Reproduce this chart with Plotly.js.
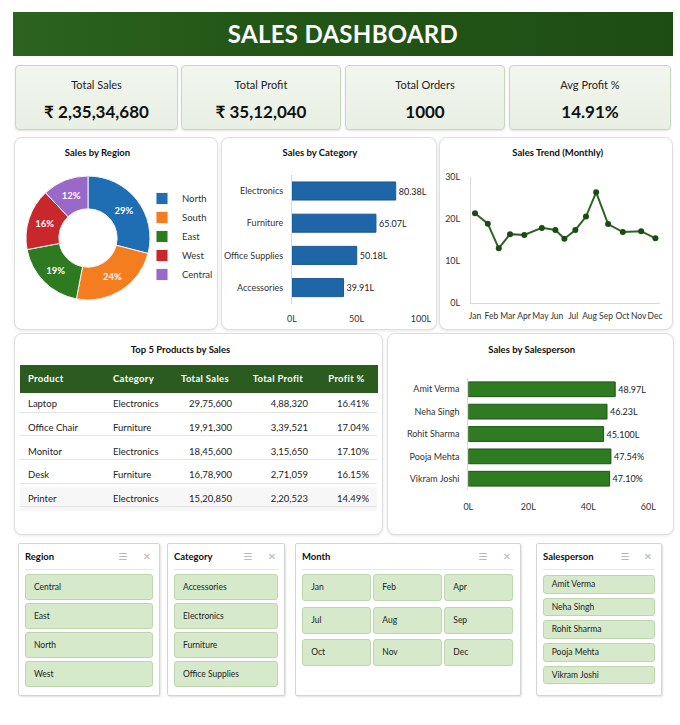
<!DOCTYPE html>
<html><head><meta charset="utf-8">
<script src="https://cdn.plot.ly/plotly-3.0.1.min.js"></script>
<style>
html,body{margin:0;padding:0;background:#fff;}
body{width:680px;height:725px;position:relative;overflow:hidden;font-family:Lato,"Open Sans",sans-serif;color:#222;}
.abs{position:absolute;box-sizing:border-box;}
#header{left:13px;top:12px;width:660px;height:44px;background:linear-gradient(90deg,#2c6320 0%,#235717 35%,#1e4d14 100%);color:#fff;font-weight:700;font-size:24px;line-height:44px;text-align:center;letter-spacing:0.3px;}
.kpi{top:65px;height:65px;background:linear-gradient(#f2f6ef,#e8efe3);border:1px solid #c8d7c0;border-radius:4px;box-shadow:0 1px 2px rgba(0,0,0,0.12);}
.kpi .lab{position:absolute;left:0;right:0;top:11px;height:16px;line-height:16px;text-align:center;font-size:11px;color:#222;}
.kpi .val{position:absolute;left:0;right:0;top:35px;height:22px;line-height:22px;text-align:center;font-size:17px;font-weight:700;color:#111;}
.panel{background:#fff;border:1px solid #dedede;border-radius:8px;box-shadow:0 1px 3px rgba(0,0,0,0.10);}
.ptitle{position:absolute;height:14px;line-height:14px;font-size:9.5px;font-weight:700;color:#111;white-space:nowrap;transform:translateX(-50%);}
.slicer{top:543px;height:153px;background:#fff;border:1px solid #d4d4d4;border-radius:2px;box-shadow:1px 1px 2px rgba(0,0,0,0.12);}
.stitle{position:absolute;top:557px;height:14px;line-height:14px;margin-top:-7px;font-size:9.5px;font-weight:700;color:#111;}
.sicon{position:absolute;top:557px;height:14px;line-height:14px;margin-top:-7px;font-size:10px;color:#b8b8b8;transform:translateX(-50%);font-family:"DejaVu Sans",sans-serif;}
.ssep{position:absolute;height:1px;background:#e6e6e6;top:569px;}
.sbtn{position:absolute;background:#d7e9cb;border:1px solid #bdd6ad;border-radius:3px;font-size:8.5px;color:#222;padding-left:8px;box-sizing:border-box;white-space:nowrap;}
.rowsep{position:absolute;height:1px;background:#e2e2e2;z-index:3;}
#plot{position:absolute;left:0;top:0;width:680px;height:725px;z-index:2;}
</style>
</head><body>
<div id="frame"></div>
<div id="plot"></div>
<script>
// ---------------- DATA ----------------
const dashTitle = 'SALES DASHBOARD';
const kpiLabels = ['Total Sales', 'Total Profit', 'Total Orders', 'Avg Profit %'];
const kpiTotalSales = 23534680;
const kpiTotalProfit = 3512040;
const kpiTotalOrders = 1000;
const kpiAvgProfitPct = 14.91;

const regionNames = ['North', 'South', 'East', 'West', 'Central'];
const regionShare = [29, 24, 19, 16, 12];

const categoryNames = ['Electronics', 'Furniture', 'Office Supplies', 'Accessories'];
const categorySales = [80.38, 65.07, 50.18, 39.91];        // in lakhs
const categoryTicks = [0, 50, 100];

const monthLabels = ['Jan','Feb','Mar','Apr','May','Jun','Jul','Aug','Sep','Oct','Nov','Dec'];
const trendMonthPos = [0, 0.78, 1.45, 2.14, 3.01, 4.08, 4.91, 5.46, 6.13, 6.78, 7.40, 8.13, 9.03, 10.15, 11.02];
const trendSales = [21.4, 18.9, 13.0, 16.4, 16.2, 17.9, 17.4, 15.3, 17.4, 20.6, 26.4, 18.8, 16.9, 17.1, 15.4];
const trendTicks = [0, 10, 20, 30];

const productNames = ['Laptop', 'Office Chair', 'Monitor', 'Desk', 'Printer'];
const productCategory = ['Electronics', 'Furniture', 'Electronics', 'Furniture', 'Electronics'];
const productSales = [2975600, 1991300, 1845600, 1678900, 1520850];
const productProfit = [488320, 339521, 315650, 271059, 220523];
const productProfitPct = [16.41, 17.04, 17.10, 16.15, 14.49];
const tableHeaders = ['Product', 'Category', 'Total Sales', 'Total Profit', 'Profit %'];

const salespersonNames = ['Amit Verma', 'Neha Singh', 'Rohit Sharma', 'Pooja Mehta', 'Vikram Joshi'];
const salespersonSales = [48.97, 46.23, 45.10, 47.54, 47.10];  // in lakhs
const salespersonLabels = ['48.97L', '46.23L', '45.100L', '47.54%', '47.10%'];
const salespersonTicks = [0, 20, 40, 60];

const slicerRegion = ['Central', 'East', 'North', 'West'];
const slicerCategory = ['Accessories', 'Electronics', 'Furniture', 'Office Supplies'];
const slicerMonth = ['Jan', 'Feb', 'Apr', 'Jul', 'Aug', 'Sep', 'Oct', 'Nov', 'Dec'];
const slicerSalesperson = ['Amit Verma', 'Neha Singh', 'Rohit Sharma', 'Pooja Mehta', 'Vikram Joshi'];

// ---------------- HELPERS ----------------
function inr(n) {
  const s = String(Math.round(n));
  if (s.length <= 3) return s;
  const last3 = s.slice(-3);
  const rest = s.slice(0, -3).replace(/\B(?=(\d{2})+(?!\d))/g, ',');
  return rest + ',' + last3;
}
const lakh = v => v + 'L';
const frame = document.getElementById('frame');
function el(cls, style, text) {
  const d = document.createElement('div');
  d.className = 'abs ' + cls;
  Object.assign(d.style, style);
  if (text !== undefined) d.textContent = text;
  frame.appendChild(d);
  return d;
}
const px = v => v + 'px';

// ---------------- FRAME (HTML) ----------------
const hdr = el('', {}, dashTitle); hdr.id = 'header';

const kpiValues = ['₹ ' + inr(kpiTotalSales), '₹ ' + inr(kpiTotalProfit), String(kpiTotalOrders), kpiAvgProfitPct.toFixed(2) + '%'];
const kpiBoxes = [[15,163],[181,160],[345,160],[509,162]];
kpiBoxes.forEach((b, i) => {
  const c = el('kpi', {left: px(b[0]), width: px(b[1])});
  const l = document.createElement('div'); l.className = 'lab'; l.textContent = kpiLabels[i]; c.appendChild(l);
  const v = document.createElement('div'); v.className = 'val'; v.textContent = kpiValues[i]; c.appendChild(v);
});

const panels = [[14,137,204,193],[221,137,216,193],[439,137,234,193],[14,333,369,202],[387,333,287,202]];
panels.forEach(p => el('panel', {left: px(p[0]), top: px(p[1]), width: px(p[2]), height: px(p[3])}));
const titles = [['Sales by Region',97.5,145.5],['Sales by Category',320,146],['Sales Trend (Monthly)',557.7,145.5],['Top 5 Products by Sales',180.5,343],['Sales by Salesperson',531.7,343]];
titles.forEach(t => el('ptitle', {left: px(t[1]), top: px(t[2])}, t[0]));

// table row separators (horizontal rules only, as in the reference)
const TBL_TOP = 365, TBL_HEAD = 23.3, TBL_ROW = 23.7;
productNames.forEach((p, i) => {
  const d = el('rowsep', {left: px(20), width: px(357), top: px(TBL_TOP + TBL_HEAD + TBL_ROW * (i + 1) - 0.5)});
});

// slicers
function slicer(title, items, box, btns, icons) {
  el('slicer', {left: px(box[0]), width: px(box[1])});
  el('stitle', {left: px(box[0] + 7)}, title);
  el('sicon', {left: px(icons[0])}, '☰');
  el('sicon', {left: px(icons[1])}, '✕');
  el('ssep', {left: px(box[0] + 7), width: px(box[1] - 14)});
  items.forEach((it, i) => {
    const b = btns(i);
    el('sbtn', {left: px(b[0]), top: px(b[1]), width: px(b[2]), height: px(b[3]), lineHeight: px(b[3] - 2)}, it);
  });
}
slicer('Region', slicerRegion, [18,142], i => [25, 574 + i*29, 128, 26], [123, 147]);
slicer('Category', slicerCategory, [167,118], i => [174, 574 + i*29, 104, 26], [248, 272]);
slicer('Month', slicerMonth, [295,226], i => [302.3 + (i%3)*71, 574 + Math.floor(i/3)*32.5, 68.5, 27], [483, 507]);
slicer('Salesperson', slicerSalesperson, [536,126], i => [542.7, 575 + i*22.7, 112.3, 18.5], [625, 648]);

// ---------------- PLOTLY ----------------
const FONT = 'Lato, "Open Sans", sans-serif';
const X = p => p / 680, Y = p => 1 - p / 725;
const AX = '#d9d9d9';
const tickTransparent = {ticks: 'outside', tickcolor: 'rgba(0,0,0,0)', showgrid: false, zeroline: false, fixedrange: true, tickangle: 0};

const traces = [
  {
    type: 'pie', labels: regionNames, values: regionShare, hole: 0.47, sort: false,
    direction: 'clockwise', rotation: 0,
    marker: {colors: ['#1f6db3', '#f47e1f', '#2e7a20', '#c8272c', '#9a68c8'], line: {color: '#f4f4f4', width: 1}},
    texttemplate: '%{percent:.0%}', textposition: 'inside', insidetextorientation: 'horizontal',
    textfont: {color: '#ffffff', size: 9.5, family: FONT, weight: 'bold'},
    domain: {x: [X(26), X(150)], y: [Y(300), Y(176)]}, hoverinfo: 'none'
  },
  {
    type: 'bar', orientation: 'h', x: categorySales, y: categoryNames, xaxis: 'x', yaxis: 'y',
    width: 0.56, marker: {color: '#1f66a8', line: {color: '#195895', width: 1}},
    texttemplate: '%{x:.2f}L', textposition: 'outside', cliponaxis: false,
    textfont: {size: 9, color: '#222', family: FONT}, showlegend: false, hoverinfo: 'none'
  },
  {
    type: 'scatter', mode: 'lines+markers', x: trendMonthPos, y: trendSales, xaxis: 'x2', yaxis: 'y2',
    line: {color: '#2d6623', width: 2}, marker: {color: '#1c4a14', size: 6},
    cliponaxis: false, showlegend: false, hoverinfo: 'none'
  },
  {
    type: 'bar', orientation: 'h', x: salespersonSales, y: salespersonNames, xaxis: 'x3', yaxis: 'y3',
    width: 0.66, marker: {color: '#2f7b22', line: {color: '#1d5415', width: 1}},
    text: salespersonLabels, textposition: 'outside', cliponaxis: false,
    textfont: {size: 9, color: '#222', family: FONT}, showlegend: false, hoverinfo: 'none'
  },
  {
    type: 'table', domain: {x: [X(20), X(377)], y: [Y(512), Y(TBL_TOP)]},
    columnwidth: [85, 65, 70, 76, 61],
    header: {
      values: tableHeaders.map(h => '<b>' + h + '</b>'),
      align: ['left', 'left', 'center', 'center', 'center'],
      fill: {color: '#2b5b1f'}, line: {color: '#2b5b1f', width: 1},
      font: {color: '#ffffff', size: 9.5, family: FONT}, height: TBL_HEAD
    },
    cells: {
      values: [productNames, productCategory, productSales.map(inr), productProfit.map(inr), productProfitPct.map(v => v.toFixed(2) + '%')],
      align: ['left', 'left', 'right', 'right', 'right'],
      fill: {color: [['#ffffff', '#ffffff', '#ffffff', '#ffffff', '#f7f7f7']]}, line: {color: 'rgba(255,255,255,0)', width: 0},
      font: {color: '#222', size: 9.5, family: FONT}, height: TBL_ROW
    }
  }
];

const layout = {
  width: 680, height: 725, margin: {l: 0, r: 0, t: 0, b: 0},
  paper_bgcolor: 'rgba(0,0,0,0)', plot_bgcolor: 'rgba(0,0,0,0)',
  font: {family: FONT, size: 9, color: '#333'},
  showlegend: true,
  legend: {x: X(142), y: Y(184), xanchor: 'left', yanchor: 'top', font: {size: 9.5, color: '#333'}, bgcolor: 'rgba(0,0,0,0)'},
  xaxis: Object.assign({domain: [X(292), X(421)], range: [0, 100], tickvals: categoryTicks, ticktext: categoryTicks.map(lakh), ticklen: 6, showline: false, anchor: 'y'}, tickTransparent),
  yaxis: Object.assign({domain: [Y(303.7), Y(174.9)], type: 'category', autorange: 'reversed', showline: true, linecolor: AX, ticklen: 6, anchor: 'x'}, tickTransparent),
  xaxis2: Object.assign({domain: [X(471), X(660)], range: [-0.245, 11.3], tickvals: monthLabels.map((m, i) => i), ticktext: monthLabels, tickfont: {size: 8.5}, showline: true, linecolor: AX, ticklen: 5, anchor: 'y2'}, tickTransparent),
  yaxis2: Object.assign({domain: [Y(302.7), Y(177.3)], range: [0, 30], tickvals: trendTicks, ticktext: trendTicks.map(lakh), showline: true, linecolor: AX, ticklen: 8, anchor: 'x2'}, tickTransparent),
  xaxis3: Object.assign({domain: [X(468.3), X(648.3)], range: [0, 60], tickvals: salespersonTicks, ticktext: salespersonTicks.map(lakh), showline: false, ticklen: 8, anchor: 'y3'}, tickTransparent),
  yaxis3: Object.assign({domain: [Y(489.9), Y(378.1)], type: 'category', autorange: 'reversed', showline: true, linecolor: AX, ticklen: 6, anchor: 'x3'}, tickTransparent)
};

Plotly.newPlot('plot', traces, layout, {staticPlot: true, displayModeBar: false});
</script>
</body></html>
